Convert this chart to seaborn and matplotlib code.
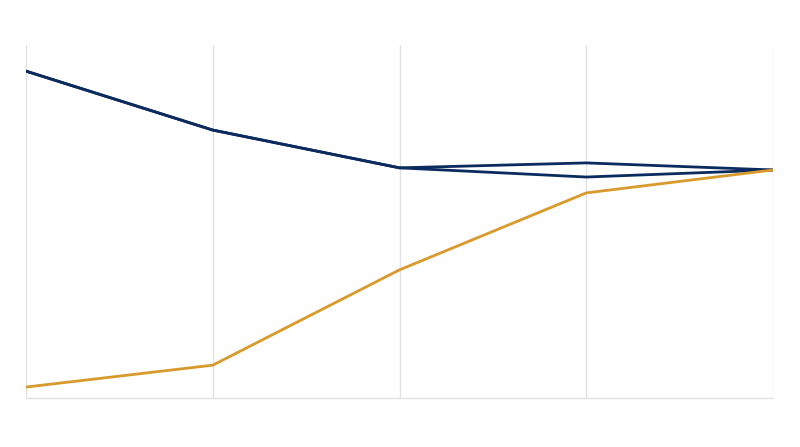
import matplotlib
matplotlib.use("Agg")
import matplotlib.pyplot as plt
import seaborn as sns
import pandas as pd

# valores (escala 0-100, sin etiquetas en el original)
periodos = [0, 1, 2, 3, 4]
serie_a = [92.6, 75.9, 65.2, 66.6, 64.6]   # azul, la de arriba al final
serie_b = [92.6, 75.9, 65.2, 62.6, 64.6]   # azul, la de abajo al final
serie_c = [3.1, 9.3, 36.3, 58.1, 64.6]     # naranja

azul = "#0b2a5f"
naranja = "#d9992b"

datos = pd.DataFrame({
    "periodo": periodos * 3,
    "valor": serie_a + serie_b + serie_c,
    "serie": ["a"] * 5 + ["b"] * 5 + ["c"] * 5,
})

sns.set_theme(style="white")  # estilo de la grafica
fig = plt.figure(figsize=(8, 4.47), dpi=100)
ax = fig.add_axes([26 / 800, 1 - 398 / 447, (773 - 26) / 800, (398 - 45) / 447])

sns.lineplot(data=datos, x="periodo", y="valor", hue="serie",
             palette={"a": azul, "b": azul, "c": naranja},
             linewidth=2, legend=False, ax=ax)

ax.set_xlim(0, 4)
ax.set_ylim(0, 100)
ax.set_xticks(periodos)
ax.set_yticks([])
ax.tick_params(axis="x", length=0, labelbottom=False)
ax.xaxis.grid(True, color="#e2e2e2", linewidth=1)
ax.set_xlabel("")
ax.set_ylabel("")
for lado in ["top", "right", "left"]:
    ax.spines[lado].set_visible(False)
ax.spines["bottom"].set_color("#e2e2e2")
ax.spines["bottom"].set_linewidth(1)

fig.savefig("out.png", dpi=100)
